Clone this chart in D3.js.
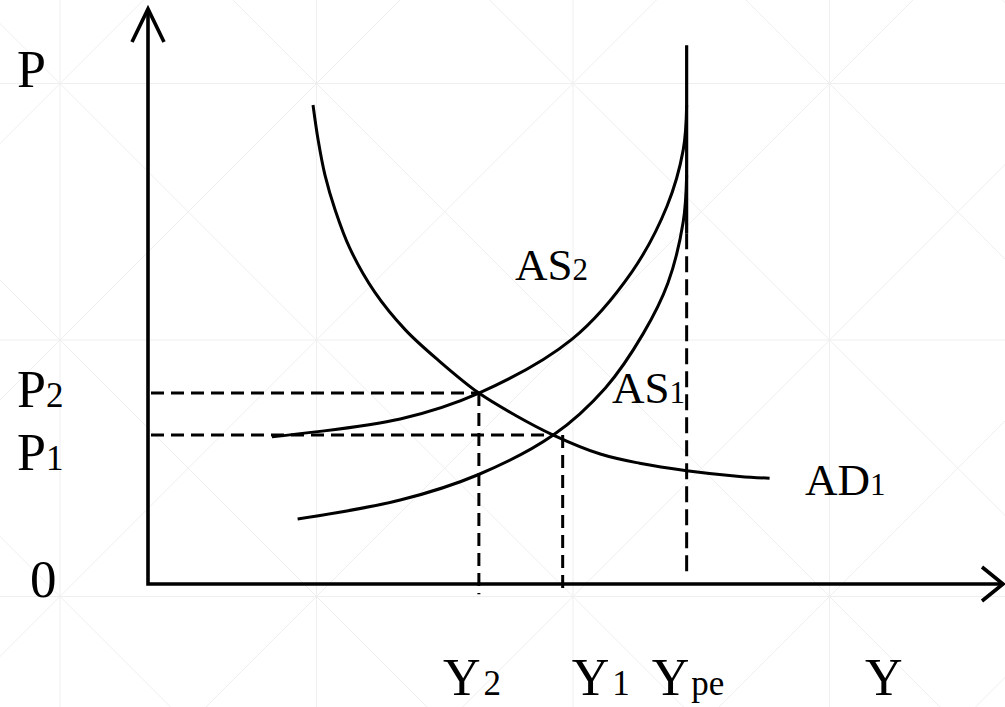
<!DOCTYPE html>
<html>
<head>
<meta charset="utf-8">
<script src="https://cdn.jsdelivr.net/npm/d3@7"></script>
<style>
  html, body { margin: 0; padding: 0; background: #fff; }
  svg { display: block; }
  text { font-family: "Liberation Serif", "Times New Roman", serif; fill: #000; }
</style>
</head>
<body>
<svg id="chart" width="1005" height="707"></svg>
<script>
// output Y along the bottom, price level P up the side, both on a 0-100 scale
const ad1 = [[19.3, 83.3], [19.9, 77.2], [20.7, 71.1], [21.9, 65.0], [23.6, 58.4], [26.5, 50.8],
  [30.1, 44.2], [34.2, 38.6], [38.7, 33.2], [42.9, 29.4], [47.4, 25.9], [52.9, 22.6],
  [57.5, 21.0], [63.0, 19.7], [69.2, 18.7], [72.7, 18.4]];
const as2 = [[14.5, 25.6], [29.5, 28.7], [38.7, 33.2], [49.6, 42.6], [56.6, 54.3],
  [60.7, 65.7], [62.6, 75.5], [63.0, 83.3]];
const as1 = [[17.5, 11.3], [29.5, 14.6], [38.6, 19.0], [47.4, 25.9], [53.5, 34.1],
  [57.9, 43.5], [60.8, 52.3], [62.6, 63.0], [63.0, 71.1]];

// equilibria: where the guide lines meet the curves, and where they drop to the axis
const eqOutput = [38.7, 47.4];
const eqPrice = [33.2, 25.9];
const dropOutput = [38.7, 48.5];
const priceNames = [['P', '2'], ['P', '1']];
const outputNames = [['Y', '2'], ['Y', '1']];

const potentialOutput = 63.0;
const potentialTop = 93.7;
const potentialDashFrom = 61.0;

const width = 1005, height = 707;
const svg = d3.select('#chart')
    .attr('font-family', "'Liberation Serif', 'Times New Roman', serif");

const x = d3.scaleLinear().domain([0, 100]).range([148, 1003]);
const y = d3.scaleLinear().domain([0, 100]).range([584, 9]);

// --- faint background lattice ---
const bg = svg.append('g').attr('stroke', '#efefef').attr('stroke-width', 1);
const step = 256.5, gx = 60, gy = 83.5;
d3.range(-1, 5).forEach(i => {
    bg.append('line').attr('x1', gx + i * step).attr('x2', gx + i * step).attr('y1', 0).attr('y2', height);
});
d3.range(-1, 4).forEach(i => {
    bg.append('line').attr('y1', gy + i * step).attr('y2', gy + i * step).attr('x1', 0).attr('x2', width);
});
d3.range(-4, 7).forEach(k => {
    const c = gx - gy + k * step;      // x - y = c
    bg.append('line').attr('x1', c - 50).attr('y1', -50).attr('x2', c + 800).attr('y2', 800);
    const d = gx + gy + k * step;      // x + y = d
    bg.append('line').attr('x1', d + 50).attr('y1', -50).attr('x2', d - 800).attr('y2', 800);
});

// --- guide lines ---
const guides = svg.append('g').attr('stroke', '#000').attr('stroke-width', 3)
    .attr('stroke-dasharray', '13,7').attr('fill', 'none');

eqPrice.forEach((p, i) => {
    guides.append('line')
        .attr('x1', x(0) + 3).attr('x2', x(eqOutput[i]))
        .attr('y1', y(p)).attr('y2', y(p));
    guides.append('line')
        .attr('x1', x(dropOutput[i])).attr('x2', x(dropOutput[i]))
        .attr('y1', y(p)).attr('y2', y(-1.8));
});

guides.append('line')
    .attr('x1', x(potentialOutput)).attr('x2', x(potentialOutput))
    .attr('y1', y(potentialDashFrom)).attr('y2', y(1))
    .attr('stroke-dasharray', '16,7');

svg.append('line')
    .attr('x1', x(potentialOutput)).attr('x2', x(potentialOutput))
    .attr('y1', y(potentialTop)).attr('y2', y(potentialDashFrom))
    .attr('stroke', '#000').attr('stroke-width', 3.2);

// --- curves ---
const line = d3.line()
    .x(d => x(d[0]))
    .y(d => y(d[1]))
    .curve(d3.curveCatmullRom.alpha(0.5));

svg.append('g').attr('fill', 'none').attr('stroke', '#000').attr('stroke-width', 3)
    .selectAll('path')
    .data([ad1, as2, as1])
    .enter()
    .append('path')
    .attr('d', line);

// --- axes with open arrowheads ---
const axes = svg.append('g').attr('fill', 'none').attr('stroke', '#000')
    .attr('stroke-width', 3.6).attr('stroke-linejoin', 'miter');
axes.append('path').attr('d', `M${x(0)},${y(100)} L${x(0)},${y(0)} L${x(100)},${y(0)}`);
axes.append('path').attr('d', `M${x(0) - 16},${y(100) + 33} L${x(0)},${y(100)} L${x(0) + 16},${y(100) + 33}`);
axes.append('path').attr('d', `M${x(100) - 21},${y(0) - 17} L${x(100)},${y(0)} L${x(100) - 21},${y(0) + 17}`);

// --- labels ---
function label(px, py, main, sub, size, subSize, gap) {
    const t = svg.append('text').attr('x', px).attr('y', py).style('font-size', size + 'px');
    t.append('tspan').text(main);
    if (sub) t.append('tspan').attr('dx', gap || 0).style('font-size', subSize + 'px').text(sub);
}

label(17, 87, 'P', null, 52);
label(x(0) - 118, y(0) + 13, '0', null, 53);
label(17, y(eqPrice[0]) + 14, priceNames[0][0], priceNames[0][1], 52, 35);
label(17, y(eqPrice[1]) + 35, priceNames[1][0], priceNames[1][1], 52, 35);

label(x(dropOutput[0]) - 36, 695, outputNames[0][0], outputNames[0][1], 52, 35, 3);
label(x(dropOutput[1]) + 9, 695, outputNames[1][0], outputNames[1][1], 52, 35, 3);
label(x(potentialOutput) - 35, 695, 'Y', 'pe', 52, 35, 2);
label(865, 695, 'Y', null, 52);

label(515, 280, 'AS', '2', 45, 31);
label(612, 403, 'AS', '1', 45, 31);
label(805, 495, 'AD', '1', 45, 31);
</script>
</body>
</html>
